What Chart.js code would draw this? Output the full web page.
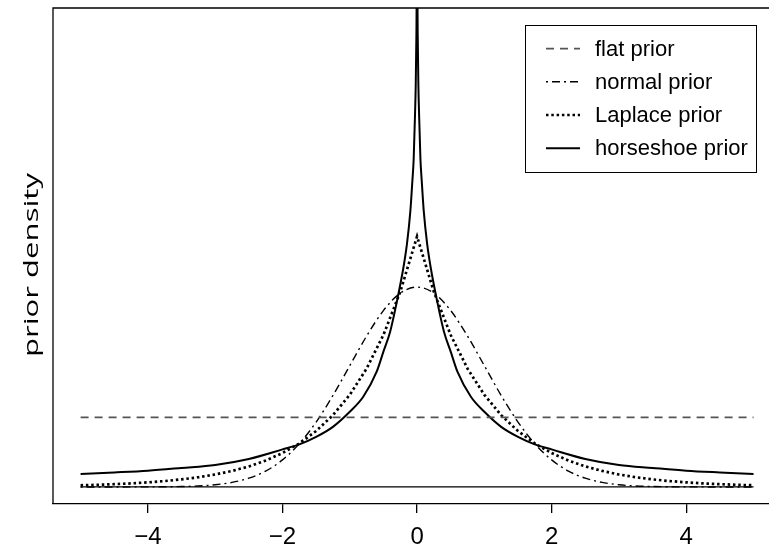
<!DOCTYPE html>
<html>
<head>
<meta charset="utf-8">
<script src="https://cdn.jsdelivr.net/npm/chart.js@4.4.1/dist/chart.umd.min.js"></script>
<style>
html,body{margin:0;padding:0;background:#fff;overflow:hidden}
canvas{display:block}
</style>
</head>
<body>
<canvas id="c" width="769" height="549"></canvas>
<script>
// ---- data ----
const xTicks = [-4, -2, 0, 2, 4];
const yLabel = 'prior density';
const seriesLabels = ['flat prior', 'normal prior', 'Laplace prior', 'horseshoe prior'];

const xGrid = [-5, -4.75, -4.5, -4.25, -4, -3.75, -3.5, -3.25, -3, -2.75, -2.5, -2.25, -2, -1.75, -1.5, -1.25, -1, -0.75, -0.5, -0.25, 0,
               0.25, 0.5, 0.75, 1, 1.25, 1.5, 1.75, 2, 2.25, 2.5, 2.75, 3, 3.25, 3.5, 3.75, 4, 4.25, 4.5, 4.75, 5];

const normalVals = [0.0000, 0.0000, 0.0000, 0.0001, 0.0001, 0.0004, 0.0009, 0.0020, 0.0044, 0.0091, 0.0175, 0.0317, 0.0540, 0.0863, 0.1295, 0.1826, 0.2420, 0.3011, 0.3521, 0.3867, 0.3989,
                    0.3867, 0.3521, 0.3011, 0.2420, 0.1826, 0.1295, 0.0863, 0.0540, 0.0317, 0.0175, 0.0091, 0.0044, 0.0020, 0.0009, 0.0004, 0.0001, 0.0001, 0.0000, 0.0000, 0.0000];

const laplaceVals = [0.0034, 0.0043, 0.0056, 0.0071, 0.0092, 0.0118, 0.0151, 0.0194, 0.0249, 0.0320, 0.0410, 0.0527, 0.0677, 0.0869, 0.1116, 0.1433, 0.1839, 0.2362, 0.3033, 0.3894, 0.5000,
                     0.3894, 0.3033, 0.2362, 0.1839, 0.1433, 0.1116, 0.0869, 0.0677, 0.0527, 0.0410, 0.0320, 0.0249, 0.0194, 0.0151, 0.0118, 0.0092, 0.0071, 0.0056, 0.0043, 0.0034];

const horseX = [-5, -4.5, -4, -3.5, -3, -2.5, -2, -1.75, -1.5, -1.25, -1, -0.8, -0.6, -0.5, -0.4, -0.3, -0.2, -0.15, -0.1, -0.07, -0.05, -0.03, -0.02, -0.01, -0.005, 0,
                0.005, 0.01, 0.02, 0.03, 0.05, 0.07, 0.1, 0.15, 0.2, 0.3, 0.4, 0.5, 0.6, 0.8, 1, 1.25, 1.5, 1.75, 2, 2.5, 3, 3.5, 4, 4.5, 5];
const horseVals = [0.026, 0.029, 0.0325, 0.038, 0.044, 0.056, 0.075, 0.085, 0.100, 0.120, 0.150, 0.180, 0.230, 0.270, 0.310, 0.370, 0.440, 0.485, 0.550, 0.610, 0.655, 0.745, 0.800, 0.900, 1.000, 1.300,
                   1.000, 0.900, 0.800, 0.745, 0.655, 0.610, 0.550, 0.485, 0.440, 0.370, 0.310, 0.270, 0.230, 0.180, 0.150, 0.120, 0.100, 0.085, 0.075, 0.056, 0.044, 0.038, 0.0325, 0.029, 0.026];

const flatX = [-5, 5];
const flatVals = [0.139, 0.139];

const zeroX = [-5, 5];
const zeroVals = [0, 0];

// ---- helpers ----
const pts = (xs, ys) => xs.map((x, i) => ({x: x, y: ys[i]}));
const SANS = '"Liberation Sans", Arial, Helvetica, sans-serif';

const framePlugin = {
  id: 'frame',
  afterDraw(chart) {
    const {ctx, chartArea: a} = chart;
    ctx.save();
    ctx.strokeStyle = '#000';
    ctx.lineWidth = 1.3;
    ctx.beginPath();
    ctx.moveTo(a.left, a.bottom);
    ctx.lineTo(a.left, a.top);
    ctx.lineTo(a.right + 2, a.top);
    ctx.stroke();
    ctx.restore();
  }
};

const yLabelPlugin = {
  id: 'ylabel',
  afterDraw(chart) {
    const ctx = chart.ctx;
    ctx.save();
    ctx.translate(37.5, 265);
    ctx.rotate(-Math.PI / 2);
    ctx.font = '27px "Open Sans", "Noto Sans", sans-serif';
    const w = ctx.measureText(yLabel).width;
    ctx.scale(184 / w, 0.76);
    ctx.fillStyle = '#000';
    ctx.textAlign = 'center';
    ctx.textBaseline = 'alphabetic';
    ctx.fillText(yLabel, 0, 0);
    ctx.restore();
  }
};

const legendPlugin = {
  id: 'boxLegend',
  afterDraw(chart) {
    const ctx = chart.ctx;
    const items = chart.data.datasets.filter(d => d.inLegend);
    const bx = 525, by = 25, bw = 231, bh = 147;
    ctx.save();
    ctx.fillStyle = '#fff';
    ctx.fillRect(bx, by, bw, bh);
    ctx.strokeStyle = '#000';
    ctx.lineWidth = 1;
    ctx.strokeRect(bx + 0.5, by + 0.5, bw, bh);
    items.forEach((d, i) => {
      const y = 48.6 + i * 33.2;
      ctx.beginPath();
      ctx.setLineDash(d.borderDash || []);
      ctx.lineWidth = d.borderWidth;
      ctx.strokeStyle = d.borderColor;
      ctx.lineCap = 'butt';
      ctx.moveTo(546, y);
      ctx.lineTo(580, y);
      ctx.stroke();
      ctx.setLineDash([]);
      ctx.fillStyle = '#000';
      ctx.font = '22px ' + SANS;
      ctx.textAlign = 'left';
      ctx.textBaseline = 'alphabetic';
      ctx.fillText(d.label, 595, y + 7);
    });
    ctx.restore();
  }
};

new Chart(document.getElementById('c'), {
  type: 'line',
  data: {
    datasets: [
      {label: '', data: pts(zeroX, zeroVals), borderColor: '#000', borderWidth: 1.3, pointRadius: 0, tension: 0, inLegend: false},
      {label: seriesLabels[0], data: pts(flatX, flatVals), borderColor: '#555', borderWidth: 1.7, borderDash: [8, 6], pointRadius: 0, tension: 0, inLegend: true},
      {label: seriesLabels[1], data: pts(xGrid, normalVals), borderColor: '#000', borderWidth: 1.4, borderDash: [2, 4, 8, 4], pointRadius: 0, cubicInterpolationMode: 'monotone', inLegend: true},
      {label: seriesLabels[2], data: pts(xGrid, laplaceVals), borderColor: '#000', borderWidth: 2.7, borderDash: [2.5, 2.8], pointRadius: 0, tension: 0, inLegend: true},
      {label: seriesLabels[3], data: pts(horseX, horseVals), borderColor: '#000', borderWidth: 2, pointRadius: 0, cubicInterpolationMode: 'monotone', inLegend: true}
    ]
  },
  options: {
    responsive: false,
    animation: false,
    devicePixelRatio: 1,
    layout: {padding: {left: 53, top: 8, right: 0, bottom: 0}},
    plugins: {legend: {display: false}, tooltip: {enabled: false}, title: {display: false}},
    scales: {
      x: {
        type: 'linear',
        min: -5.41,
        max: 5.23,
        afterBuildTicks: s => { s.ticks = xTicks.map(v => ({value: v})); },
        afterFit: s => { s.height = 45; },
        grid: {drawOnChartArea: false, drawTicks: true, tickLength: 9, color: '#000', lineWidth: 1.3},
        border: {display: true, color: '#000', width: 1.3},
        ticks: {
          color: '#000',
          padding: 10,
          maxRotation: 0,
          autoSkip: false,
          font: {family: SANS, size: 24},
          callback: v => (v < 0 ? '\u2212' + Math.abs(v) : String(v))
        }
      },
      y: {
        type: 'linear',
        display: false,
        min: -0.034,
        max: 0.956
      }
    }
  },
  plugins: [framePlugin, yLabelPlugin, legendPlugin]
});
</script>
</body>
</html>
